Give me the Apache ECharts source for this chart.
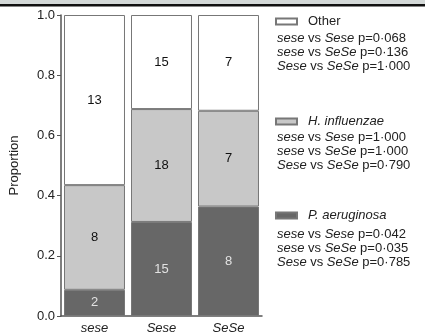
<!DOCTYPE html>
<html>
<head>
<meta charset="utf-8">
<script src="https://cdn.jsdelivr.net/npm/echarts@6/dist/echarts.min.js"></script>
<style>
  html, body { margin: 0; padding: 0; background: #fff; }
  #chart { width: 425px; height: 336px; }
</style>
</head>
<body>
<div id="chart"></div>
<script>
// Genotype groups along the x axis
const genotypes = ['sese', 'Sese', 'SeSe'];

// Isolate counts per genotype (stacked bottom to top)
const aeruginosaCounts = [2, 15, 8];
const influenzaeCounts = [8, 18, 7];
const otherCounts = [13, 15, 7];

// Pairwise comparison p-values shown beside each legend entry
const otherPValues = ['0·068', '0·136', '1·000'];
const influenzaePValues = ['1·000', '1·000', '0·790'];
const aeruginosaPValues = ['0·042', '0·035', '0·785'];
const comparisons = [['sese', 'Sese'], ['sese', 'SeSe'], ['Sese', 'SeSe']];

const yTicks = [0, 0.2, 0.4, 0.6, 0.8, 1.0];

const totals = genotypes.map((_, i) => aeruginosaCounts[i] + influenzaeCounts[i] + otherCounts[i]);
const toProportion = counts => counts.map((c, i) => ({ value: c / totals[i], count: c }));

const FONT = '"Liberation Sans", Arial, sans-serif';
const BORDER = '#777';

function barSeries(name, counts, fill, labelColor) {
  return {
    name: name,
    type: 'bar',
    stack: 'total',
    barCategoryGap: '9%',
    data: toProportion(counts),
    itemStyle: { color: fill, borderColor: BORDER, borderWidth: 1 },
    label: {
      show: true,
      position: 'inside',
      formatter: p => String(p.data.count),
      color: labelColor,
      fontFamily: FONT,
      fontSize: 13
    },
    emphasis: { disabled: true }
  };
}

function pLines(values, top) {
  return values.map((v, k) => ({
    type: 'text',
    left: 277,
    top: top + k * 14,
    style: {
      text: '{i|' + comparisons[k][0] + '} vs {i|' + comparisons[k][1] + '} p=' + v,
      fontFamily: FONT,
      fontSize: 13,
      fill: '#222',
      rich: { i: { fontStyle: 'italic', fontFamily: FONT, fontSize: 13, fill: '#222' } }
    }
  }));
}

function legendBlock(name, top, italic) {
  return {
    data: [{ name: name, textStyle: { fontStyle: italic ? 'italic' : 'normal' } }],
    left: 275,
    top: top,
    padding: 0,
    orient: 'vertical',
    icon: 'rect',
    itemWidth: 21,
    itemHeight: 6,
    selectedMode: false,
    textStyle: { fontFamily: FONT, fontSize: 13, color: '#222', padding: [0, 0, 0, 6] }
  };
}

const chart = echarts.init(document.getElementById('chart'), null, { renderer: 'canvas' });

chart.setOption({
  animation: false,
  backgroundColor: '#fff',
  grid: { left: 61, right: 163, top: 15, bottom: 20, containLabel: false },
  legend: [
    legendBlock('Other', 15, false),
    legendBlock('H. influenzae', 115, true),
    legendBlock('P. aeruginosa', 209, true)
  ],
  xAxis: {
    type: 'category',
    data: genotypes,
    axisLine: { lineStyle: { color: '#555', width: 1.5 } },
    axisTick: { show: false },
    axisLabel: { fontFamily: FONT, fontSize: 13, fontStyle: 'italic', color: '#222', margin: 6 }
  },
  yAxis: {
    type: 'value',
    min: 0,
    max: 1,
    interval: 0.2,
    name: 'Proportion',
    nameLocation: 'middle',
    nameGap: 40,
    nameTextStyle: { fontFamily: FONT, fontSize: 13, color: '#222' },
    axisLine: { show: true, lineStyle: { color: '#555', width: 1.5 } },
    axisTick: { show: true, length: 4, lineStyle: { color: '#555' } },
    splitLine: { show: false },
    axisLabel: {
      fontFamily: FONT, fontSize: 13, color: '#222', margin: 6,
      formatter: v => yTicks.some(t => Math.abs(t - v) < 1e-9) ? v.toFixed(1) : ''
    }
  },
  series: [
    barSeries('P. aeruginosa', aeruginosaCounts, '#676767', '#e2e2e2'),
    barSeries('H. influenzae', influenzaeCounts, '#c8c8c8', '#111'),
    barSeries('Other', otherCounts, '#ffffff', '#111')
  ],
  graphic: [
    { type: 'rect', left: 0, top: 0, shape: { width: 425, height: 4 }, style: { fill: '#d4d9d8' }, silent: true },
    { type: 'rect', left: 0, top: 4, shape: { width: 425, height: 2.5 }, style: { fill: '#111' }, silent: true }
  ].concat(pLines(otherPValues, 32), pLines(influenzaePValues, 131), pLines(aeruginosaPValues, 228))
});
</script>
</body>
</html>
